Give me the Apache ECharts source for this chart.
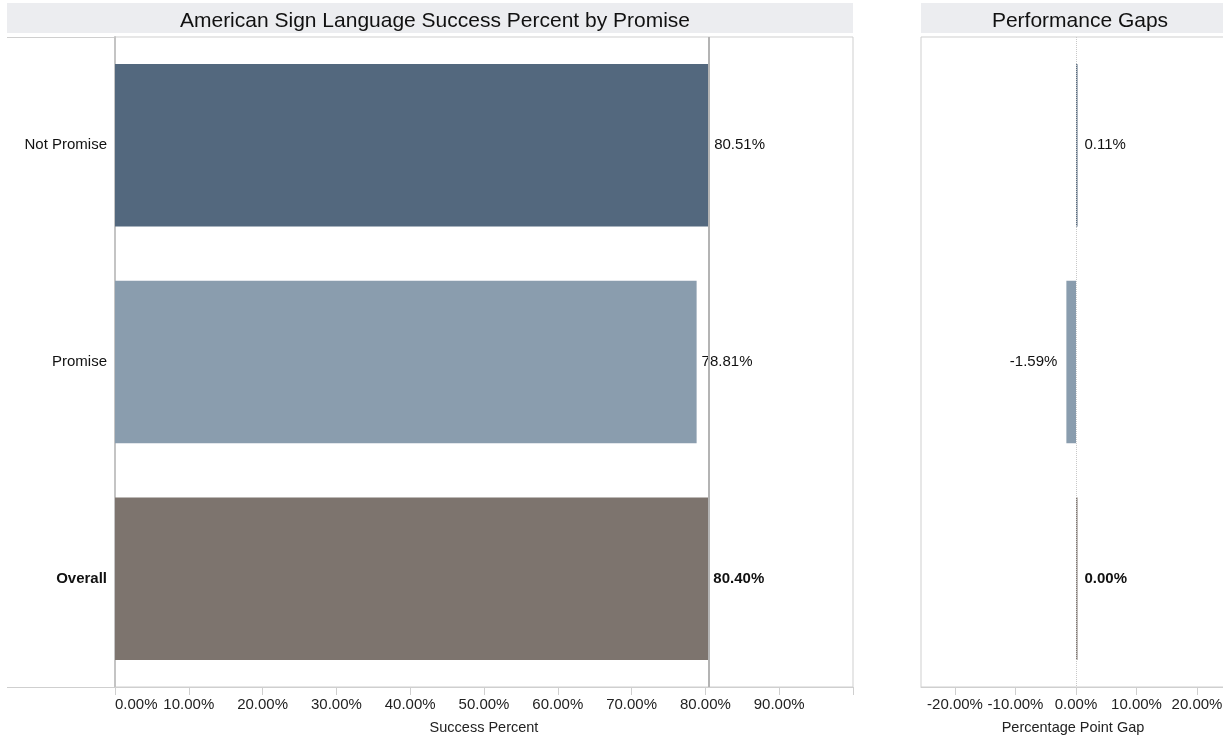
<!DOCTYPE html>
<html>
<head>
<meta charset="utf-8">
<script src="https://cdn.jsdelivr.net/npm/echarts@6/dist/echarts.min.js"></script>
<style>
  html, body { margin: 0; padding: 0; background: #fff; }
  #chart { width: 1223px; height: 738px; }
</style>
</head>
<body>
<div id="chart"></div>
<script>
// Groups and their success rates (percent)
const categories = ['Not Promise', 'Promise', 'Overall'];
const successPercent = [80.51, 78.81, 80.40];
// Percentage-point gap of each group against the overall rate
const gapPoints = [0.11, -1.59, 0.00];
const barColors = ['#53687E', '#8A9DAE', '#7D746E'];
const overallRate = 80.40;

const successTicks = [0, 10, 20, 30, 40, 50, 60, 70, 80, 90];
const successTickMarks = [0, 10, 20, 30, 40, 50, 60, 70, 80, 90, 100];
const gapTicks = [-20, -10, 0, 10, 20];

const FONT = '"Liberation Sans", Arial, Helvetica, sans-serif';
const pct = v => v.toFixed(2) + '%';

const chart = echarts.init(document.getElementById('chart'), null, { renderer: 'canvas' });

const boldIdx = categories.indexOf('Overall');

const option = {
  animation: false,
  backgroundColor: '#fff',
  textStyle: { fontFamily: FONT },
  title: [
    {
      text: 'American Sign Language Success Percent by Promise',
      left: 430, top: 6, textAlign: 'center',
      textStyle: { fontFamily: FONT, fontSize: 21, fontWeight: 'normal', color: '#111' }
    },
    {
      text: 'Performance Gaps',
      left: 1075, top: 6, textAlign: 'center',
      textStyle: { fontFamily: FONT, fontSize: 21, fontWeight: 'normal', color: '#111' }
    }
  ],
  graphic: [
    { type: 'rect', z: -10, shape: { x: 7, y: 3, width: 846, height: 30 }, style: { fill: '#ECEDF0' } },
    { type: 'rect', z: -10, shape: { x: 921, y: 3, width: 302, height: 30 }, style: { fill: '#ECEDF0' } },
    // row-header strip borders left of the main plot
    { type: 'line', shape: { x1: 7, y1: 37.5, x2: 115, y2: 37.5 }, style: { stroke: '#cfcfcf', lineWidth: 1 } },
    { type: 'line', shape: { x1: 7, y1: 687.5, x2: 115, y2: 687.5 }, style: { stroke: '#cfcfcf', lineWidth: 1 } }
  ],
  grid: [
    { left: 115, top: 37, width: 738, height: 650, show: true, borderColor: '#cfcfcf', borderWidth: 1,
      outerBoundsMode: 'none', containLabel: false },
    { left: 921, top: 37, width: 304, height: 650, show: true, borderColor: '#cfcfcf', borderWidth: 1,
      outerBoundsMode: 'none', containLabel: false }
  ],
  xAxis: [
    {
      gridIndex: 0, type: 'value', min: 0, max: 100,
      name: 'Success Percent', nameLocation: 'middle', nameGap: 33,
      nameTextStyle: { fontFamily: FONT, fontSize: 14.5, color: '#222' },
      axisLine: { show: true, lineStyle: { color: '#cfcfcf', width: 1 } },
      axisTick: { show: true, length: 8, customValues: successTickMarks, lineStyle: { color: '#cfcfcf' } },
      axisLabel: { customValues: successTicks, formatter: v => pct(v), margin: 10,
        alignMinLabel: 'left',
        fontFamily: FONT, fontSize: 15, color: '#222' },
      splitLine: { show: false }
    },
    {
      gridIndex: 1, type: 'value', min: -25.62, max: 24.63,
      name: 'Percentage Point Gap', nameLocation: 'middle', nameGap: 33,
      nameTextStyle: { fontFamily: FONT, fontSize: 14.5, color: '#222' },
      axisLine: { show: true, onZero: false, lineStyle: { color: '#cfcfcf', width: 1 } },
      axisTick: { show: true, length: 8, customValues: gapTicks, lineStyle: { color: '#cfcfcf' } },
      axisLabel: { customValues: gapTicks, formatter: v => pct(v), margin: 10,
        fontFamily: FONT, fontSize: 15, color: '#222' },
      splitLine: { show: false }
    }
  ],
  yAxis: [
    {
      gridIndex: 0, type: 'category', data: categories, inverse: true,
      axisLine: { show: true, lineStyle: { color: '#c4c4c4', width: 2 } },
      axisTick: { show: false },
      axisLabel: {
        margin: 8, fontFamily: FONT, fontSize: 15, color: '#111',
        formatter: (v) => v === 'Overall' ? '{b|' + v + '}' : v,
        rich: { b: { fontFamily: FONT, fontSize: 15, fontWeight: 'bold', color: '#111' } }
      }
    },
    {
      gridIndex: 1, type: 'category', data: categories, inverse: true,
      axisLine: { show: false }, axisTick: { show: false }, axisLabel: { show: false }
    }
  ],
  series: [
    {
      type: 'bar', xAxisIndex: 0, yAxisIndex: 0, barWidth: '75%',
      data: successPercent.map((v, i) => ({
        value: v,
        itemStyle: { color: barColors[i] },
        label: { fontWeight: i === boldIdx ? 'bold' : 'normal' }
      })),
      label: {
        show: true, position: 'right', distance: 5,
        fontFamily: FONT, fontSize: 15, color: '#111',
        formatter: p => pct(p.value)
      },
      markLine: {
        silent: true, symbol: 'none', label: { show: false },
        lineStyle: { color: '#b4b4b4', width: 2, type: 'solid' },
        data: [{ xAxis: overallRate }]
      }
    },
    {
      type: 'bar', xAxisIndex: 1, yAxisIndex: 1, barWidth: '75%', barMinHeight: 1.5,
      data: gapPoints.map((v, i) => ({
        value: v,
        itemStyle: { color: barColors[i] },
        label: {
          fontWeight: i === boldIdx ? 'bold' : 'normal',
          position: v < 0 ? 'left' : 'right',
          distance: v < 0 ? 9 : 7
        }
      })),
      label: {
        show: true, fontFamily: FONT, fontSize: 15, color: '#111',
        formatter: p => pct(p.value)
      },
      markLine: {
        silent: true, symbol: 'none', label: { show: false },
        lineStyle: { color: '#c8c8c8', width: 1, type: 'dotted' },
        data: [{ xAxis: 0 }]
      }
    }
  ]
};

chart.setOption(option);
</script>
</body>
</html>
